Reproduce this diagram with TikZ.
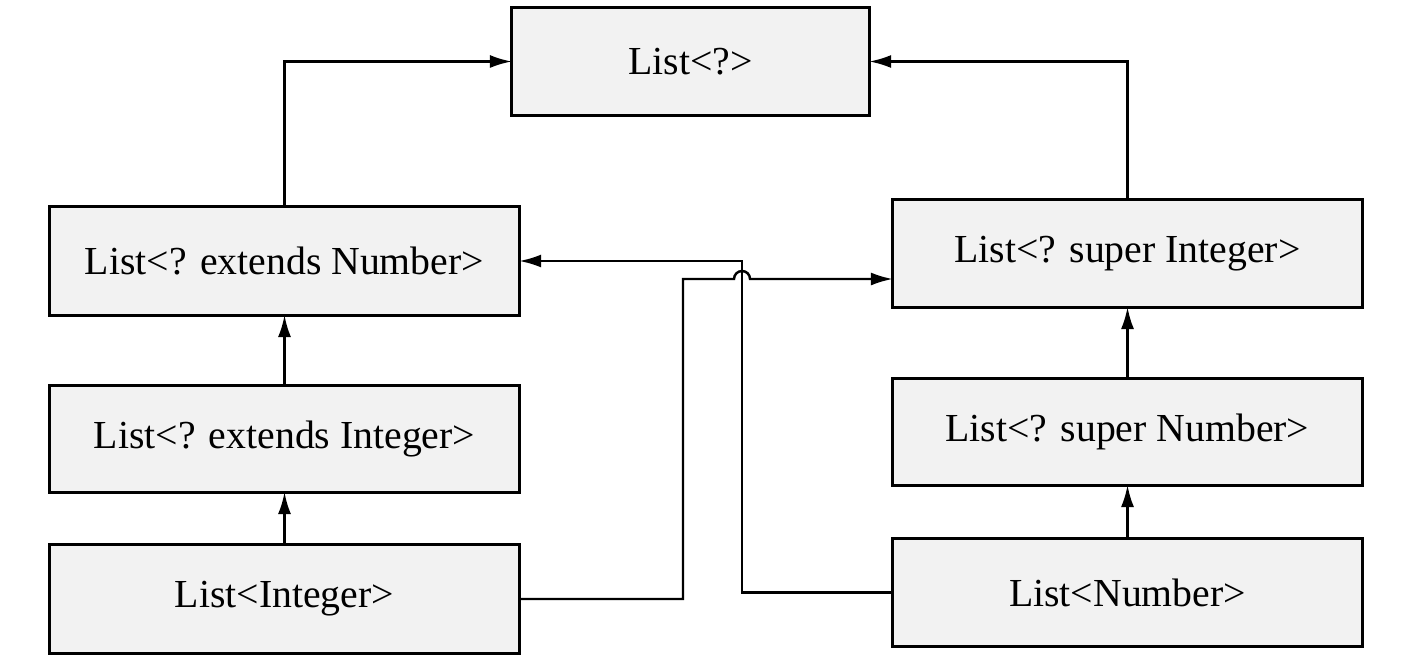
\documentclass[tikz,border=0pt]{standalone}
\usepackage{fontspec}
\setmainfont{Liberation Serif}
\usetikzlibrary{arrows.meta}
\definecolor{boxfill}{HTML}{F2F2F2}
\begin{document}
\begin{tikzpicture}[x=0.01cm,y=-0.01cm,
  box/.style={draw=black,fill=boxfill,line width=0.85pt,inner sep=0pt,outer sep=0pt,
    minimum width=4.69cm,minimum height=1.07cm,font=\fontsize{11.3pt}{13pt}\selectfont},
  conn/.style={line width=0.7pt},
  arr/.style={conn,-{Latex[length=0.22cm,width=0.13cm]}}]
\useasboundingbox (0,0) rectangle (1416,664);
\node[box,minimum width=3.57cm] (any) at (690.5,61.5) {List<?>};
\node[box,minimum height=1.08cm] (extN) at (284.5,261) {List<? extends Number>};
\node[box,minimum height=1.06cm] (extI) at (284.5,439) {List<? extends Integer>};
\node[box,minimum height=1.08cm] (int) at (284.5,599) {List<Integer>};
\node[box] (supI) at (1127.5,253.5) {List<? super Integer>};
\node[box,minimum height=1.06cm] (supN) at (1127.5,432) {List<? super Number>};
\node[box] (num) at (1127.5,592.5) {List<Number>};
\draw[arr] (extN.north) |- (any.west);
\draw[arr] (supI.north) |- (any.east);
\draw[arr] (extI.north) -- (extN.south);
\draw[arr] (int.north) -- (extI.south);
\draw[arr] (supN.north) -- (supI.south);
\draw[arr] (num.north) -- (supN.south);
\coordinate (a1) at (683,599);
\coordinate (a2) at (683,279);
\coordinate (h1) at (734,279);
\coordinate (h2) at (750,279);
\coordinate (a3) at (supI.west |- h1);
\draw[arr] (int.east) -- (a1) -- (a2) -- (h1) arc[start angle=180,end angle=0,radius=0.08cm] -- (a3);
\coordinate (b1) at (742,592.5);
\coordinate (b2) at (742,261);
\draw[arr] (num.west) -- (b1) -- (b2) -- (extN.east);
\end{tikzpicture}
\end{document}
